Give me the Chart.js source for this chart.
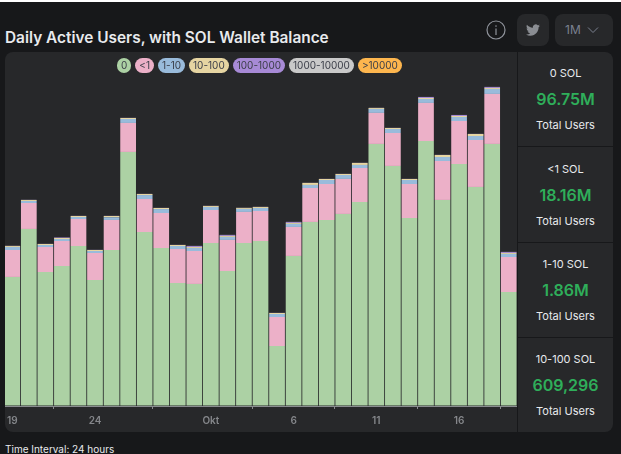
<!DOCTYPE html>
<html lang="en">
<head>
<meta charset="UTF-8">
<title>Daily Active Users, with SOL Wallet Balance</title>
<script src="https://cdn.jsdelivr.net/npm/chart.js"></script>
<style>
  html, body { margin: 0; height: 100%; background: #17181a; overflow: hidden; font-family: Inter, sans-serif; color: #e8eaed; }
  body > * { position: absolute; }
  #topline { left: 0; top: 0; width: 621px; height: 2px; background: #fff; }
  #title { left: 5px; top: 28px; font-size: 15.4px; font-weight: 600; line-height: 20px; white-space: nowrap; }
  #info { left: 486px; top: 20px; }
  .btn { background: #27282a; border-radius: 8px; top: 14px; height: 32px; }
  #tw { left: 517px; width: 32px; }
  #tw svg { position: absolute; left: 9px; top: 9px; }
  #period { left: 555px; width: 58px; color: #7b8190; font-size: 12px; line-height: 32px; }
  #period span { position: absolute; left: 10px; }
  #period svg { position: absolute; left: 32px; top: 12px; }
  #panel { left: 5px; top: 52px; width: 512px; height: 380px; background: #27282a; border-radius: 8px 0 0 8px; }
  #clip { left: 5px; top: 52px; width: 512px; height: 380px; overflow: hidden; }
  #wrap { position: absolute; left: -1px; top: 0; width: 513px; height: 380px; }
  #legend { left: 117px; top: 58px; display: flex; gap: 4px; }
  #legend span { height: 15px; line-height: 15px; padding: 0 4px; border-radius: 8px; font-size: 10px; color: #3b3e48; white-space: nowrap; }
  #side { left: 518px; top: 52px; width: 95px; height: 380px; background: #27282a; border-radius: 0 8px 8px 0; }
  .line { position: absolute; left: 0; width: 95px; height: 1px; background: #17181a; }
  .txt { position: absolute; left: 0; width: 95px; text-align: center; line-height: 14px; font-size: 11px; white-space: nowrap; }
  .val { color: #2fae5a; font-size: 16px; font-weight: 600; line-height: 20px; }
  #interval { left: 5px; top: 442px; font-size: 10px; line-height: 14px; white-space: nowrap; }
</style>
</head>
<body>
  <div id="topline"></div>
  <div id="title">Daily Active Users, with SOL Wallet Balance</div>
  <svg id="info" width="20" height="20" viewBox="0 0 20 20">
    <circle cx="10" cy="10" r="9" fill="none" stroke="#8f939b" stroke-width="1.2"/>
    <rect x="9.4" y="8.5" width="1.2" height="6.5" fill="#8f939b"/>
    <rect x="9.4" y="5.3" width="1.2" height="1.5" fill="#8f939b"/>
  </svg>
  <div id="tw" class="btn">
    <svg width="14" height="14" viewBox="0 0 24 24"><path fill="#8a8d92" d="M23.95 4.57a10 10 0 0 1-2.82.77 4.96 4.96 0 0 0 2.16-2.72c-.95.55-2 .95-3.12 1.18a4.92 4.92 0 0 0-8.38 4.48C7.69 8.09 4.07 6.13 1.64 3.16a4.82 4.82 0 0 0-.66 2.47c0 1.71.87 3.21 2.19 4.1a4.9 4.9 0 0 1-2.23-.62v.06a4.92 4.92 0 0 0 3.95 4.83 5 5 0 0 1-2.21.08 4.94 4.94 0 0 0 4.6 3.42A9.87 9.87 0 0 1 0 19.54a14 14 0 0 0 7.56 2.21c9.05 0 14-7.5 14-13.98 0-.21 0-.42-.02-.63a9.94 9.94 0 0 0 2.41-2.57z"/></svg>
  </div>
  <div id="period" class="btn">
    <span>1M</span>
    <svg width="12" height="8" viewBox="0 0 12 8"><path d="M1 1.5l5 5 5-5" fill="none" stroke="#7b8190" stroke-width="1"/></svg>
  </div>

  <div id="panel"></div>
  <div id="clip"><div id="wrap"><canvas id="chart"></canvas></div></div>
  <div id="legend"></div>
  <div id="side"></div>
  <div id="interval">Time Interval: 24 hours</div>

  <script>
    // values in thousands of users
    const categories = ['Sep 19','Sep 20','Sep 21','Sep 22','Sep 23','Sep 24','Sep 25','Sep 26','Sep 27','Sep 28','Sep 29','Sep 30',
      'Okt 1','Okt 2','Okt 3','Okt 4','Okt 5','Okt 6','Okt 7','Okt 8','Okt 9','Okt 10','Okt 11','Okt 12','Okt 13','Okt 14','Okt 15','Okt 16','Okt 17','Okt 18','Okt 19'];
    const tickDays = ['Sep 19','Sep 24','Okt 1','Okt 6','Okt 11','Okt 16'];
    const tickLabels = ['19','24','Okt','6','11','16'];

    const sol0 = [2304,3161,2393,2500,2857,2250,2786,4536,3107,2821,2196,2179,2911,2411,2911,2946,1071,2679,3286,3321,3429,3643,4679,4286,3357,4732,3679,4321,3911,4679,2036];
    const solLt1 = [482,464,446,446,482,482,536,518,589,625,607,589,589,554,554,536,518,518,607,643,625,607,554,589,607,679,696,768,839,893,625];
    const sol1to10 = [54,36,36,36,36,36,48,71,71,71,54,54,54,54,54,54,54,54,54,71,71,54,71,71,71,71,71,71,71,89,54];
    const sol10to100 = [18,18,18,18,18,18,23,18,18,18,18,18,18,18,18,18,18,18,36,18,18,36,18,18,18,18,36,18,36,18,18];
    const sol100to1000 = [2,2,2,9,2,2,2,2,2,2,2,18,2,18,2,2,2,18,2,2,2,2,2,2,2,18,2,18,2,18,18];
    const sol1000to10000 = [1,1,1,1,1,1,1,1,1,1,1,1,1,1,1,1,1,1,1,1,1,1,1,1,1,1,1,1,1,1,1];
    const solOver10000 = [0,0,0,0,0,0,0,0,0,0,0,0,0,0,0,0,0,0,0,0,0,0,0,0,0,0,0,0,0,0,0];

    const seriesNames = ['0','<1','1-10','10-100','100-1000','1000-10000','>10000'];
    const seriesValues = [sol0, solLt1, sol1to10, sol10to100, sol100to1000, sol1000to10000, solOver10000];
    const seriesColors = ['#acd1a4','#ecb0c8','#99bbdb','#e6d5a2','#a78ad6','#c9c9c9','#fdb64e'];

    const statNames = ['0 SOL','<1 SOL','1-10 SOL','10-100 SOL'];
    const statValues = ['96.75M','18.16M','1.86M','609,296'];

    const legend = document.getElementById('legend');
    seriesNames.forEach((name, i) => {
      const pill = document.createElement('span');
      pill.textContent = name;
      pill.style.background = seriesColors[i];
      legend.appendChild(pill);
    });

    const side = document.getElementById('side');
    const rowTops = [0, 96, 191, 286];
    const lineTops = [94, 190, 285];
    function addText(text, top, cls) {
      const el = document.createElement('div');
      el.className = cls;
      el.textContent = text;
      el.style.top = top + 'px';
      side.appendChild(el);
    }
    lineTops.forEach(top => {
      const line = document.createElement('div');
      line.className = 'line';
      line.style.top = top + 'px';
      side.appendChild(line);
    });
    statNames.forEach((name, i) => {
      const top = rowTops[i];
      addText(name, top + 14, 'txt');
      addText(statValues[i], top + 37, 'txt val');
      addText('Total Users', top + 66, 'txt');
    });

    new Chart(document.getElementById('chart'), {
      type: 'bar',
      data: {
        labels: categories,
        datasets: seriesNames.map((name, i) => ({
          label: name,
          data: seriesValues[i],
          backgroundColor: seriesColors[i],
          barPercentage: 0.95,
          categoryPercentage: 1
        }))
      },
      options: {
        responsive: true,
        maintainAspectRatio: false,
        animation: false,
        layout: { padding: 0 },
        plugins: { legend: { display: false }, tooltip: { enabled: false } },
        scales: {
          x: {
            stacked: true,
            afterBuildTicks: s => { s.ticks = s.ticks.filter(t => tickDays.includes(categories[t.value])); },
            afterFit: s => { s.height = 26; s.paddingLeft = 0; s.paddingRight = 0; },
            grid: { drawOnChartArea: false, color: '#8a8c90', tickLength: 3 },
            border: { color: '#8a8c90' },
            ticks: {
              autoSkip: false,
              maxRotation: 0,
              padding: 6,
              color: '#85878b',
              font: { family: 'Inter', size: 10, weight: '600' },
              callback: value => tickLabels[tickDays.indexOf(categories[value])]
            }
          },
          y: {
            stacked: true,
            min: 0,
            max: 6321,
            afterBuildTicks: s => { s.ticks = s.ticks.filter(t => t.value % 500 === 0); },
            ticks: { display: false, stepSize: 500 },
            afterFit: s => { s.width = 0; },
            grid: { color: '#3b3d3f', drawTicks: false },
            border: { display: false, dash: [6, 6] }
          }
        }
      }
    });
  </script>
</body>
</html>
